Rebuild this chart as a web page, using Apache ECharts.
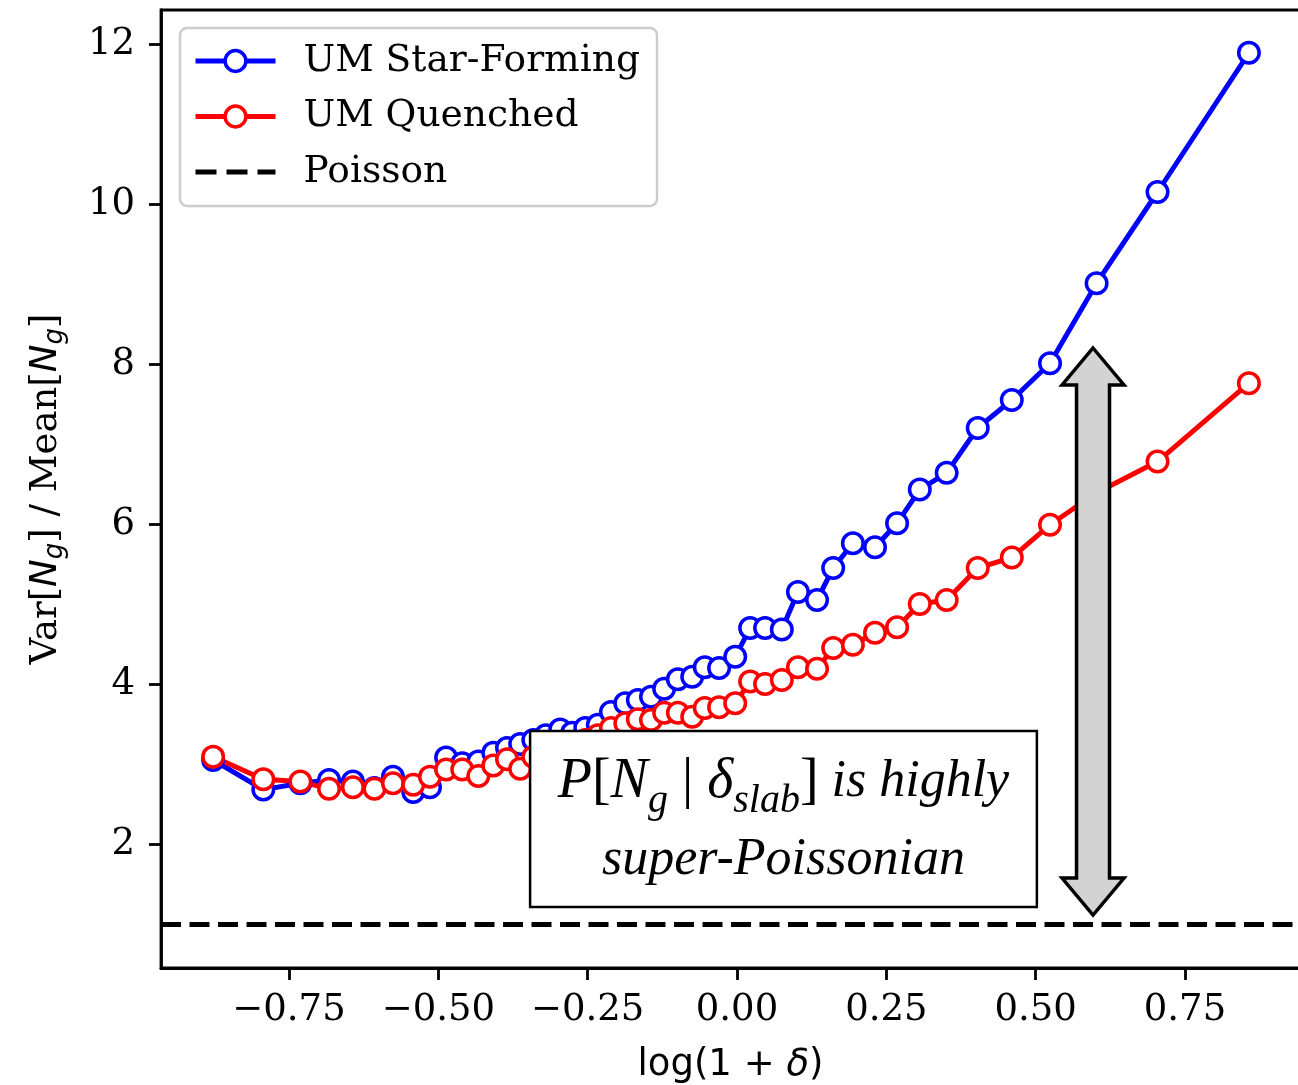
<!DOCTYPE html>
<html>
<head>
<meta charset="utf-8">
<script src="https://cdn.jsdelivr.net/npm/echarts@6/dist/echarts.min.js"></script>
<style>
  html, body { margin: 0; padding: 0; background: #ffffff; overflow: hidden; }
  #chart { width: 1298px; height: 1085px; }
</style>
</head>
<body>
<div id="chart"></div>
<script>
// log(1 + delta) bin centres shared by both galaxy samples
const logDelta = [
  -0.877, -0.793, -0.731, -0.683, -0.643, -0.607, -0.576, -0.542, -0.514, -0.487,
  -0.460, -0.433, -0.408, -0.385, -0.363, -0.341, -0.320, -0.296, -0.276, -0.254,
  -0.233, -0.211, -0.187, -0.166, -0.144, -0.122, -0.099, -0.075, -0.054, -0.030,
  -0.003, 0.022, 0.047, 0.075, 0.102, 0.134, 0.161, 0.194, 0.231, 0.268,
  0.306, 0.351, 0.403, 0.460, 0.524, 0.602, 0.704, 0.857
];

// Var[N_g] / Mean[N_g] for star-forming galaxies
const starForming = [
  3.05, 2.68, 2.76, 2.80, 2.78, 2.70, 2.84, 2.65, 2.71, 3.08,
  3.01, 3.03, 3.14, 3.20, 3.25, 3.30, 3.36, 3.43, 3.39, 3.45,
  3.49, 3.65, 3.76, 3.80, 3.84, 3.94, 4.06, 4.09, 4.21, 4.20,
  4.34, 4.70, 4.70, 4.68, 5.15, 5.05, 5.45, 5.76, 5.71, 6.01,
  6.43, 6.64, 7.20, 7.55, 8.01, 9.01, 10.15, 11.89
];

// Var[N_g] / Mean[N_g] for quenched galaxies
const quenched = [
  3.09, 2.81, 2.78, 2.69, 2.71, 2.69, 2.76, 2.74, 2.84, 2.93,
  2.93, 2.85, 2.98, 3.06, 2.94, 3.09, 3.15, 3.20, 3.25, 3.30,
  3.36, 3.45, 3.51, 3.56, 3.55, 3.64, 3.64, 3.59, 3.70, 3.71,
  3.76, 4.03, 4.00, 4.05, 4.21, 4.19, 4.45, 4.49, 4.64, 4.71,
  5.00, 5.05, 5.45, 5.58, 5.99, 6.39, 6.78, 7.76
];

const poissonLevel = 1;

const xTicks = [-0.75, -0.5, -0.25, 0, 0.25, 0.5, 0.75];
const yTicks = [2, 4, 6, 8, 10, 12];

const seriesNames = ['UM Star-Forming', 'UM Quenched', 'Poisson'];

const xRange = [-0.9643, 0.9425];
const yRange = [0.45, 12.425];

// double-headed arrow (data coordinates) and note box
const arrowX = 0.596;
const arrowTop = 8.2;
const arrowBottom = 1.1125;
const arrowHeadLen = 0.4625;
const arrowHeadHalf = 0.0519;
const arrowShaftHalf = 0.0276;
const noteBox = { x0: -0.3464, x1: 0.502, y0: 1.2125, y1: 3.4125 };

const BLUE = '#0000ff';
const RED = '#ff0000';
const AXIS_W = 2.8;

function zip(xs, ys) { return xs.map((x, i) => [x, ys[i]]); }
function fmtX(v) {
  const s = Math.abs(v).toFixed(2);
  return v < 0 ? '\u2212' + s : s;
}

const chart = echarts.init(document.getElementById('chart'), null, { renderer: 'canvas' });

function markerSeries(name, values, color) {
  return {
    name: name,
    type: 'line',
    data: zip(logDelta, values),
    symbol: 'circle',
    symbolSize: 20.5,
    showAllSymbol: true,
    itemStyle: { color: '#ffffff', borderColor: color, borderWidth: 3.5 },
    lineStyle: { color: color, width: 5 },
    emphasis: { disabled: true },
    silent: true,
    z: 2
  };
}

chart.setOption({
  animation: false,
  backgroundColor: '#ffffff',
  grid: {
    left: 161, top: 10, right: -2, bottom: 117,
    outerBoundsMode: 'none',
    containLabel: false,
    show: true, borderColor: '#000000', borderWidth: AXIS_W,
    backgroundColor: 'transparent'
  },
  xAxis: {
    type: 'value',
    min: xRange[0], max: xRange[1],
    axisLine: { show: true, onZero: false, lineStyle: { color: '#000', width: AXIS_W } },
    axisTick: { show: true, customValues: xTicks, length: 12, lineStyle: { color: '#000', width: AXIS_W } },
    axisLabel: {
      customValues: xTicks, formatter: fmtX, margin: 24,
      fontFamily: 'DejaVu Serif', fontSize: 37, color: '#000'
    },
    splitLine: { show: false },
    name: 'log(1 + {d|\u03b4})',
    nameLocation: 'middle',
    nameGap: 76,
    nameTextStyle: {
      fontFamily: 'DejaVu Sans', fontSize: 37, color: '#000', lineHeight: 42,
      rich: { d: { fontFamily: 'DejaVu Sans', fontStyle: 'italic', fontSize: 37, lineHeight: 42 } }
    }
  },
  yAxis: {
    type: 'value',
    min: yRange[0], max: yRange[1],
    axisLine: { show: true, onZero: false, lineStyle: { color: '#000', width: AXIS_W } },
    axisTick: { show: true, customValues: yTicks, length: 12, lineStyle: { color: '#000', width: AXIS_W } },
    axisLabel: {
      customValues: yTicks, margin: 26,
      fontFamily: 'DejaVu Serif', fontSize: 37, color: '#000'
    },
    splitLine: { show: false },
    name: 'Var[{i|N}{s|g}] / Mean[{i|N}{s|g}]',
    nameLocation: 'middle',
    nameRotate: 90,
    nameGap: 93,
    nameTextStyle: {
      fontFamily: 'DejaVu Serif', fontSize: 37, color: '#000', lineHeight: 44,
      rich: {
        i: { fontFamily: 'DejaVu Sans', fontStyle: 'italic', fontSize: 37, lineHeight: 44, verticalAlign: 'middle' },
        s: { fontFamily: 'DejaVu Sans', fontStyle: 'italic', fontSize: 26, lineHeight: 22, verticalAlign: 'bottom' }
      }
    }
  },
  legend: {
    orient: 'vertical',
    left: 180, top: 28,
    padding: [13, 17, 14, 13],
    itemWidth: 80, itemHeight: 26, itemGap: 15.5,
    backgroundColor: 'rgba(255,255,255,0.8)',
    borderColor: '#cccccc', borderWidth: 2.5, borderRadius: 7,
    selectedMode: false,
    itemStyle: { borderWidth: 3.5 },
    lineStyle: { width: 5 },
    textStyle: {
      fontFamily: 'DejaVu Serif', fontSize: 37.6, color: '#000', lineHeight: 40,
      padding: [0, 0, 0, 23]
    },
    data: [
      { name: seriesNames[0] },
      { name: seriesNames[1] },
      {
        name: seriesNames[2],
        icon: 'path://M0,0h21v5h-21z M31,0h21v5h-21z M62,0h18v5h-18z',
        itemStyle: { color: '#000', borderWidth: 0 }
      }
    ]
  },
  series: [
    markerSeries(seriesNames[0], starForming, BLUE),
    markerSeries(seriesNames[1], quenched, RED),
    {
      name: seriesNames[2],
      type: 'line',
      data: [],
      symbol: 'none',
      itemStyle: { color: '#000' },
      lineStyle: { color: '#000', width: 5, type: [20, 8.5] },
      silent: true,
      markLine: {
        silent: true,
        symbol: ['none', 'none'],
        label: { show: false },
        lineStyle: { color: '#000', width: 5, type: [20, 8.5] },
        emphasis: { disabled: true },
        data: [{ yAxis: poissonLevel }]
      },
      z: 3
    }
  ]
});

// Overlays placed through the grid's coordinate system
function toPx(x, y) { return chart.convertToPixel({ gridIndex: 0 }, [x, y]); }

const c = arrowX;
const topBase = arrowTop - arrowHeadLen;
const botBase = arrowBottom + arrowHeadLen;
const arrowPts = [
  [c, arrowTop],
  [c + arrowHeadHalf, topBase],
  [c + arrowShaftHalf, topBase],
  [c + arrowShaftHalf, botBase],
  [c + arrowHeadHalf, botBase],
  [c, arrowBottom],
  [c - arrowHeadHalf, botBase],
  [c - arrowShaftHalf, botBase],
  [c - arrowShaftHalf, topBase],
  [c - arrowHeadHalf, topBase]
].map(p => toPx(p[0], p[1]));

const b0 = toPx(noteBox.x0, noteBox.y1);
const b1 = toPx(noteBox.x1, noteBox.y0);
const boxW = b1[0] - b0[0];
const boxH = b1[1] - b0[1];

const noteFont = 'Liberation Serif';
chart.setOption({
  graphic: [
    {
      type: 'polygon',
      z: 50,
      silent: true,
      shape: { points: arrowPts },
      style: { fill: '#d3d3d3', stroke: '#000000', lineWidth: 3.5, lineJoin: 'miter' }
    },
    {
      type: 'rect',
      z: 50,
      silent: true,
      shape: { x: b0[0], y: b0[1], width: boxW, height: boxH },
      style: { fill: '#ffffff', stroke: '#000000', lineWidth: 2.5 }
    },
    {
      type: 'text',
      z: 51,
      silent: true,
      x: b0[0] + boxW / 2,
      y: b0[1] + boxH / 2 + 2,
      style: {
        text: '{m|P}{n|[}{m|N}{sub|g}{n| | }{m|\u03b4}{sub|slab}{n|]}{i| is highly}\n{i|super-Poissonian}',
        align: 'center',
        verticalAlign: 'middle',
        fill: '#000',
        font: 'italic 52px "' + noteFont + '"',
        rich: {
          m: { fontFamily: noteFont, fontStyle: 'italic', fontSize: 56, lineHeight: 78, verticalAlign: 'middle', fill: '#000' },
          i: { fontFamily: noteFont, fontStyle: 'italic', fontSize: 52, lineHeight: 78, verticalAlign: 'middle', fill: '#000' },
          n: { fontFamily: noteFont, fontStyle: 'normal', fontSize: 56, lineHeight: 78, verticalAlign: 'middle', fill: '#000' },
          sub: { fontFamily: noteFont, fontStyle: 'italic', fontSize: 40, lineHeight: 50, verticalAlign: 'bottom', fill: '#000' }
        }
      }
    }
  ]
});
</script>
</body>
</html>
